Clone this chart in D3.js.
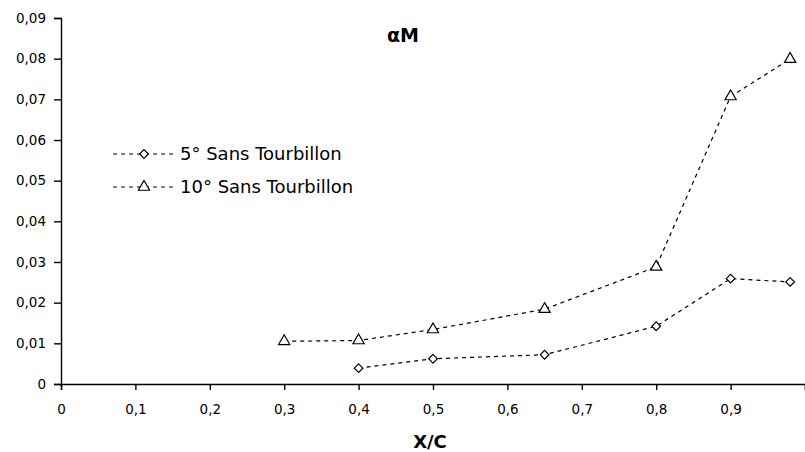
<!DOCTYPE html>
<html lang="fr">
<head>
    <meta charset="UTF-8">
    <title>alphaM vs X/C</title>
    <script src="https://cdn.jsdelivr.net/npm/d3@7/dist/d3.min.js"></script>
    <style>
        body {
            margin: 0;
            padding: 0;
            background: #fff;
            font-family: "DejaVu Sans", sans-serif;
        }
        .axis path, .axis line {
            stroke: #000;
            stroke-width: 1.4px;
        }
        .axis text {
            font-family: "DejaVu Sans", sans-serif;
            font-size: 13.5px;
            fill: #000;
        }
    </style>
</head>
<body>
    <svg width="805" height="452"></svg>

    <script>
        // data
        const xTicks = [0, 0.1, 0.2, 0.3, 0.4, 0.5, 0.6, 0.7, 0.8, 0.9, 1];
        const yTicks = [0, 0.01, 0.02, 0.03, 0.04, 0.05, 0.06, 0.07, 0.08, 0.09];

        const xs5 = [0.4, 0.5, 0.65, 0.8, 0.9, 0.98];
        const ys5 = [0.0039, 0.0062, 0.0072, 0.0142, 0.0259, 0.0251];

        const xs10 = [0.3, 0.4, 0.5, 0.65, 0.8, 0.9, 0.98];
        const ys10 = [0.0105, 0.0107, 0.0134, 0.0184, 0.0288, 0.0707, 0.0799];

        const seriesNames = ["5° Sans Tourbillon", "10° Sans Tourbillon"];

        const margin = { top: 18, right: 0, bottom: 68, left: 61 };
        const height = 452 - margin.top - margin.bottom;

        const svg = d3.select("svg")
            .append("g")
            .attr("transform", `translate(${margin.left},${margin.top})`);

        const x = d3.scaleLinear().domain([0, 1]).range([0, 744]);
        const y = d3.scaleLinear().domain([0, 0.09]).range([height, 0]);

        // the "1" label falls off the right edge in the original
        const fmt = d => d === 0 ? "0" : d === 1 ? "" : d3.format(".2~f")(d).replace(".", ",");

        svg.append("g")
            .attr("class", "axis")
            .attr("transform", `translate(0,${height})`)
            .call(d3.axisBottom(x).tickValues(xTicks).tickSize(6).tickPadding(14).tickFormat(fmt));

        svg.append("g")
            .attr("class", "axis")
            .call(d3.axisLeft(y).tickValues(yTicks).tickSize(7).tickPadding(8).tickFormat(fmt));

        const line = d3.line().x(d => x(d[0])).y(d => y(d[1]));

        const series = [
            { pts: d3.zip(xs5, ys5), symbol: d3.symbolDiamond2, size: 48 },
            { pts: d3.zip(xs10, ys10), symbol: d3.symbolTriangle, size: 55 }
        ];

        series.forEach(s => {
            svg.append("path")
                .datum(s.pts)
                .attr("d", line)
                .attr("fill", "none")
                .attr("stroke", "#000")
                .attr("stroke-width", 1.2)
                .attr("stroke-dasharray", "4,4");

            svg.selectAll(null)
                .data(s.pts)
                .enter()
                .append("path")
                .attr("transform", d => `translate(${x(d[0])},${y(d[1])})`)
                .attr("d", d3.symbol().type(s.symbol).size(s.size))
                .attr("fill", "#fff")
                .attr("stroke", "#000")
                .attr("stroke-width", 1.2);
        });

        // legend
        const legend = svg.append("g").attr("transform", "translate(52,136)");
        seriesNames.forEach((name, i) => {
            const g = legend.append("g").attr("transform", `translate(0,${i * 33})`);
            g.append("line")
                .attr("x1", 0).attr("x2", 62)
                .attr("stroke", "#000")
                .attr("stroke-width", 1.2)
                .attr("stroke-dasharray", "4,4");
            g.append("path")
                .attr("transform", "translate(31,0)")
                .attr("d", d3.symbol().type(series[i].symbol).size(series[i].size))
                .attr("fill", "#fff")
                .attr("stroke", "#000")
                .attr("stroke-width", 1.2);
            g.append("text")
                .attr("x", 67)
                .attr("dy", "0.36em")
                .attr("font-size", "18px")
                .text(name);
        });

        // title and axis label
        svg.append("text")
            .attr("x", 342)
            .attr("y", 24)
            .attr("text-anchor", "middle")
            .attr("font-size", "19px")
            .attr("font-weight", "bold")
            .text("αM");

        svg.append("text")
            .attr("x", 369)
            .attr("y", 430)
            .attr("text-anchor", "middle")
            .attr("font-size", "18px")
            .attr("font-weight", "bold")
            .text("X/C");
    </script>
</body>
</html>
